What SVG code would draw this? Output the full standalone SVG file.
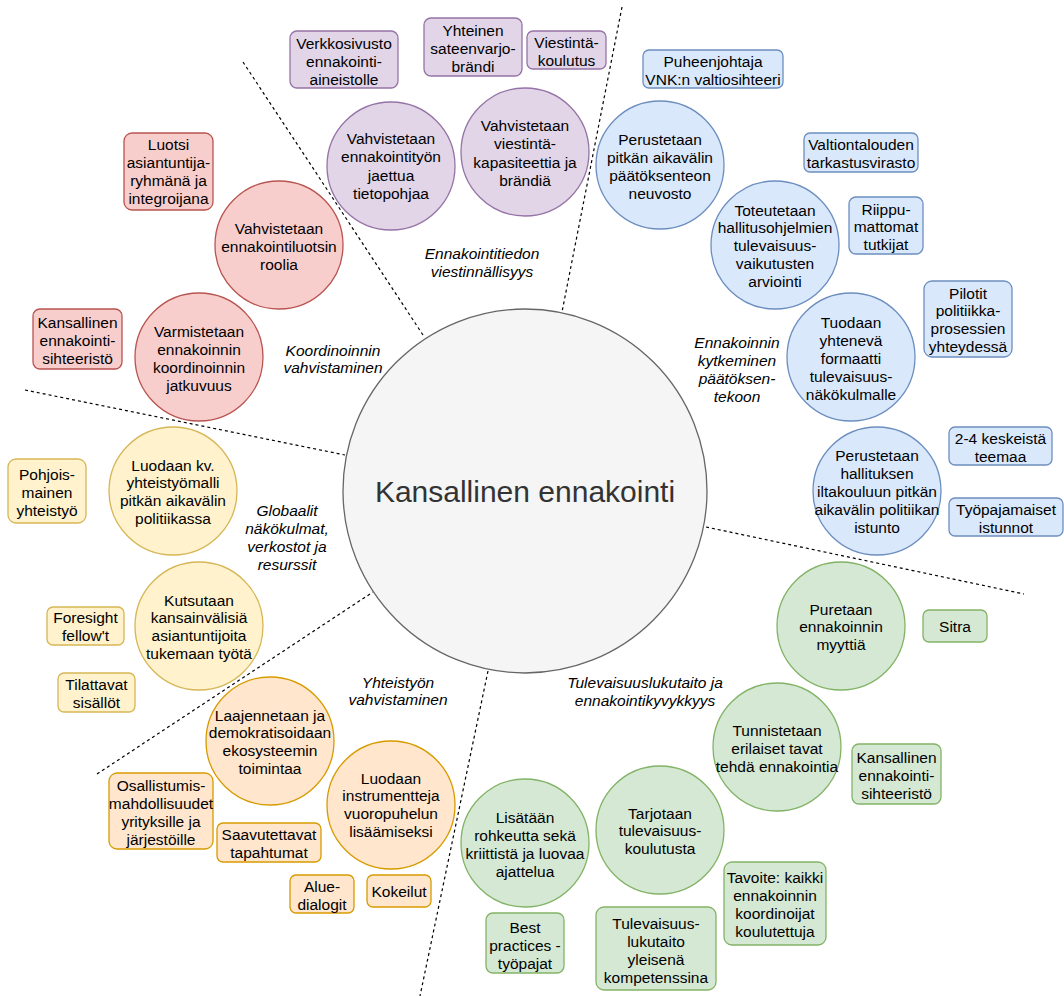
<svg xmlns="http://www.w3.org/2000/svg" width="1064" height="996" viewBox="0 0 1064 996">
<style>
text{font-family:"Liberation Sans",Arial,Helvetica,sans-serif;font-size:15.5px;fill:#000;text-anchor:middle}
.lbl{font-style:italic}
.center{font-size:30px;fill:#333}
.div{stroke:#000;stroke-width:1.2;stroke-dasharray:3 3;fill:none}
.pu{fill:#e1d5e7;stroke:#9673a6;stroke-width:1.3}
.bl{fill:#dae8fc;stroke:#6c8ebf;stroke-width:1.3}
.rd{fill:#f8cecc;stroke:#b85450;stroke-width:1.3}
.ye{fill:#fff2cc;stroke:#d6b656;stroke-width:1.3}
.or{fill:#ffe6cc;stroke:#d79b00;stroke-width:1.3}
.gr{fill:#d5e8d4;stroke:#82b366;stroke-width:1.3}
</style>
<rect width="1064" height="996" fill="#fff"/>
<g id="connectors">
<line class="div" x1="243" y1="62" x2="423" y2="335"/>
<line class="div" x1="622" y1="7" x2="562" y2="312"/>
<line class="div" x1="25" y1="390" x2="345" y2="455"/>
<line class="div" x1="706" y1="527" x2="1024" y2="594"/>
<line class="div" x1="97" y1="774" x2="373" y2="592"/>
<line class="div" x1="488" y1="671" x2="420" y2="996"/>
</g>
<g id="center">
<circle cx="525" cy="491" r="182" fill="#f5f5f5" stroke="#666" stroke-width="1.3"/>
<text class="center" x="525" y="502">Kansallinen ennakointi</text>
</g>
<!-- Purple -->
<g id="p1"><circle class="pu" cx="391" cy="166" r="64"/><text x="391" y="144"><tspan x="391">Vahvistetaan</tspan><tspan x="391" dy="18.3">ennakointityön</tspan><tspan x="391" dy="18.3">jaettua</tspan><tspan x="391" dy="18.3">tietopohjaa</tspan></text></g>
<g id="p2"><circle class="pu" cx="525" cy="152" r="64"/><text x="525" y="131"><tspan x="525">Vahvistetaan</tspan><tspan x="525" dy="18.3">viestintä-</tspan><tspan x="525" dy="18.3">kapasiteettia ja</tspan><tspan x="525" dy="18.3">brändiä</tspan></text></g>
<g id="p-box1"><rect class="pu" x="290" y="31" width="108" height="57" rx="7"/><text x="344" y="48.5"><tspan x="344">Verkkosivusto</tspan><tspan x="344" dy="18.3">ennakointi-</tspan><tspan x="344" dy="18.3">aineistolle</tspan></text></g>
<g id="p-box2"><rect class="pu" x="424" y="18" width="98" height="58" rx="7"/><text x="473" y="35.5"><tspan x="473">Yhteinen</tspan><tspan x="473" dy="18.3">sateenvarjo-</tspan><tspan x="473" dy="18.3">brändi</tspan></text></g>
<g id="p-box3"><rect class="pu" x="527" y="31" width="79" height="38" rx="6"/><text x="566.5" y="47.5"><tspan x="566.5">Viestintä-</tspan><tspan x="566.5" dy="18.3">koulutus</tspan></text></g>
<g id="p-label"><text class="lbl" x="482" y="258.5"><tspan x="482">Ennakointitiedon</tspan><tspan x="482" dy="18.3">viestinnällisyys</tspan></text></g>
<!-- Blue -->
<g id="b1"><circle class="bl" cx="660" cy="165" r="64"/><text x="660" y="144.5"><tspan x="660">Perustetaan</tspan><tspan x="660" dy="18.3">pitkän aikavälin</tspan><tspan x="660" dy="18.3">päätöksenteon</tspan><tspan x="660" dy="18.3">neuvosto</tspan></text></g>
<g id="b2"><circle class="bl" cx="775" cy="245" r="64"/><text x="775" y="215.5"><tspan x="775">Toteutetaan</tspan><tspan x="775" dy="17.8">hallitusohjelmien</tspan><tspan x="775" dy="17.8">tulevaisuus-</tspan><tspan x="775" dy="17.8">vaikutusten</tspan><tspan x="775" dy="17.8">arviointi</tspan></text></g>
<g id="b3"><circle class="bl" cx="851" cy="357" r="64"/><text x="851" y="327.5"><tspan x="851">Tuodaan</tspan><tspan x="851" dy="18">yhtenevä</tspan><tspan x="851" dy="18">formaatti</tspan><tspan x="851" dy="18">tulevaisuus-</tspan><tspan x="851" dy="18">näkökulmalle</tspan></text></g>
<g id="b4"><circle class="bl" cx="877" cy="491" r="64"/><text x="877" y="460.5"><tspan x="877">Perustetaan</tspan><tspan x="877" dy="18">hallituksen</tspan><tspan x="877" dy="18">iltakouluun pitkän</tspan><tspan x="877" dy="18">aikavälin politiikan</tspan><tspan x="877" dy="18">istunto</tspan></text></g>
<g id="b-box1"><rect class="bl" x="643" y="50" width="140" height="38" rx="6"/><text x="713" y="66.5"><tspan x="713">Puheenjohtaja</tspan><tspan x="713" dy="18">VNK:n valtiosihteeri</tspan></text></g>
<g id="b-box2"><rect class="bl" x="804" y="133" width="114" height="39" rx="6"/><text x="861" y="149.5"><tspan x="861">Valtiontalouden</tspan><tspan x="861" dy="18">tarkastusvirasto</tspan></text></g>
<g id="b-box3"><rect class="bl" x="849" y="197" width="74" height="57" rx="7"/><text x="886" y="214.5"><tspan x="886">Riippu-</tspan><tspan x="886" dy="17.8">mattomat</tspan><tspan x="886" dy="17.8">tutkijat</tspan></text></g>
<g id="b-box4"><rect class="bl" x="924" y="281" width="88" height="76" rx="8"/><text x="968" y="298.5"><tspan x="968">Pilotit</tspan><tspan x="968" dy="17.7">politiikka-</tspan><tspan x="968" dy="17.7">prosessien</tspan><tspan x="968" dy="17.7">yhteydessä</tspan></text></g>
<g id="b-box5"><rect class="bl" x="949" y="427" width="103" height="38" rx="6"/><text x="1000.5" y="443.5"><tspan x="1000.5">2-4 keskeistä</tspan><tspan x="1000.5" dy="18">teemaa</tspan></text></g>
<g id="b-box6"><rect class="bl" x="949" y="498" width="114" height="38" rx="6"/><text x="1006" y="514.5"><tspan x="1006">Työpajamaiset</tspan><tspan x="1006" dy="18">istunnot</tspan></text></g>
<g id="b-label"><text class="lbl" x="737" y="347.5"><tspan x="737">Ennakoinnin</tspan><tspan x="737" dy="18.2">kytkeminen</tspan><tspan x="737" dy="18.2">päätöksen-</tspan><tspan x="737" dy="18.2">tekoon</tspan></text></g>
<!-- Red -->
<g id="r1"><circle class="rd" cx="279" cy="245" r="64"/><text x="279" y="233.5"><tspan x="279">Vahvistetaan</tspan><tspan x="279" dy="18">ennakointiluotsin</tspan><tspan x="279" dy="18">roolia</tspan></text></g>
<g id="r2"><circle class="rd" cx="199" cy="357" r="64"/><text x="199" y="336.5"><tspan x="199">Varmistetaan</tspan><tspan x="199" dy="18">ennakoinnin</tspan><tspan x="199" dy="18">koordinoinnin</tspan><tspan x="199" dy="18">jatkuvuus</tspan></text></g>
<g id="r-box1"><rect class="rd" x="124" y="133" width="89" height="77" rx="8"/><text x="168.5" y="149.5"><tspan x="168.5">Luotsi</tspan><tspan x="168.5" dy="18.3">asiantuntija-</tspan><tspan x="168.5" dy="18.3">ryhmänä ja</tspan><tspan x="168.5" dy="18.3">integroijana</tspan></text></g>
<g id="r-box2"><rect class="rd" x="33" y="309" width="89" height="60" rx="7"/><text x="77.5" y="327.5"><tspan x="77.5">Kansallinen</tspan><tspan x="77.5" dy="18">ennakointi-</tspan><tspan x="77.5" dy="18">sihteeristö</tspan></text></g>
<g id="r-label"><text class="lbl" x="333" y="355.5"><tspan x="333">Koordinoinnin</tspan><tspan x="333" dy="17.8">vahvistaminen</tspan></text></g>
<!-- Yellow -->
<g id="y1"><circle class="ye" cx="173" cy="491" r="64"/><text x="173" y="470.5"><tspan x="173">Luodaan kv.</tspan><tspan x="173" dy="17.8">yhteistyömalli</tspan><tspan x="173" dy="17.8">pitkän aikavälin</tspan><tspan x="173" dy="17.8">politiikassa</tspan></text></g>
<g id="y2"><circle class="ye" cx="199" cy="626" r="64"/><text x="199" y="605.5"><tspan x="199">Kutsutaan</tspan><tspan x="199" dy="17.8">kansainvälisiä</tspan><tspan x="199" dy="17.8">asiantuntijoita</tspan><tspan x="199" dy="17.8">tukemaan työtä</tspan></text></g>
<g id="y-box1"><rect class="ye" x="8" y="459" width="78" height="64" rx="8"/><text x="47" y="479.5"><tspan x="47">Pohjois-</tspan><tspan x="47" dy="18">mainen</tspan><tspan x="47" dy="18">yhteistyö</tspan></text></g>
<g id="y-box2"><rect class="ye" x="47" y="607" width="77" height="38" rx="6"/><text x="85.5" y="622.5"><tspan x="85.5">Foresight</tspan><tspan x="85.5" dy="18">fellow't</tspan></text></g>
<g id="y-box3"><rect class="ye" x="58" y="673" width="77" height="39" rx="6"/><text x="96.5" y="689.5"><tspan x="96.5">Tilattavat</tspan><tspan x="96.5" dy="18">sisällöt</tspan></text></g>
<g id="y-label"><text class="lbl" x="287" y="515.5"><tspan x="287">Globaalit</tspan><tspan x="287" dy="18">näkökulmat,</tspan><tspan x="287" dy="18">verkostot ja</tspan><tspan x="287" dy="18">resurssit</tspan></text></g>
<!-- Orange -->
<g id="o1"><circle class="or" cx="270" cy="741" r="64"/><text x="270" y="720.5"><tspan x="270">Laajennetaan ja</tspan><tspan x="270" dy="17.7">demokratisoidaan</tspan><tspan x="270" dy="17.7">ekosysteemin</tspan><tspan x="270" dy="17.7">toimintaa</tspan></text></g>
<g id="o2"><circle class="or" cx="391" cy="805" r="64"/><text x="391" y="783.5"><tspan x="391">Luodaan</tspan><tspan x="391" dy="17.8">instrumentteja</tspan><tspan x="391" dy="17.8">vuoropuhelun</tspan><tspan x="391" dy="17.8">lisäämiseksi</tspan></text></g>
<g id="o-box1"><rect class="or" x="109" y="773" width="104" height="76" rx="8"/><text x="161" y="790.5"><tspan x="161">Osallistumis-</tspan><tspan x="161" dy="18">mahdollisuudet</tspan><tspan x="161" dy="18">yrityksille ja</tspan><tspan x="161" dy="18">järjestöille</tspan></text></g>
<g id="o-box2"><rect class="or" x="217" y="823" width="104" height="39" rx="6"/><text x="269" y="839.5"><tspan x="269">Saavutettavat</tspan><tspan x="269" dy="18">tapahtumat</tspan></text></g>
<g id="o-box3"><rect class="or" x="290" y="875" width="64" height="38" rx="6"/><text x="322" y="892"><tspan x="322">Alue-</tspan><tspan x="322" dy="17.5">dialogit</tspan></text></g>
<g id="o-box4"><rect class="or" x="367" y="875" width="64" height="32" rx="6"/><text x="399" y="897">Kokeilut</text></g>
<g id="o-label"><text class="lbl" x="398" y="687.5"><tspan x="398">Yhteistyön</tspan><tspan x="398" dy="17.6">vahvistaminen</tspan></text></g>
<!-- Green -->
<g id="g1"><circle class="gr" cx="841" cy="626" r="64"/><text x="841" y="614.5"><tspan x="841">Puretaan</tspan><tspan x="841" dy="17.6">ennakoinnin</tspan><tspan x="841" dy="17.6">myyttiä</tspan></text></g>
<g id="g2"><circle class="gr" cx="777" cy="747" r="64"/><text x="777" y="735.5"><tspan x="777">Tunnistetaan</tspan><tspan x="777" dy="18">erilaiset tavat</tspan><tspan x="777" dy="18">tehdä ennakointia</tspan></text></g>
<g id="g3"><circle class="gr" cx="525" cy="843" r="64"/><text x="525" y="822.5"><tspan x="525">Lisätään</tspan><tspan x="525" dy="18">rohkeutta sekä</tspan><tspan x="525" dy="18">kriittistä ja luovaa</tspan><tspan x="525" dy="18">ajattelua</tspan></text></g>
<g id="g4"><circle class="gr" cx="660" cy="830" r="64"/><text x="660" y="818.5"><tspan x="660">Tarjotaan</tspan><tspan x="660" dy="17.7">tulevaisuus-</tspan><tspan x="660" dy="17.7">koulutusta</tspan></text></g>
<g id="g-box1"><rect class="gr" x="923" y="610" width="64" height="32" rx="6"/><text x="955" y="631.5">Sitra</text></g>
<g id="g-box2"><rect class="gr" x="852" y="744" width="89" height="60" rx="7"/><text x="896.5" y="762.5"><tspan x="896.5">Kansallinen</tspan><tspan x="896.5" dy="18">ennakointi-</tspan><tspan x="896.5" dy="18">sihteeristö</tspan></text></g>
<g id="g-box3"><rect class="gr" x="486" y="913" width="78" height="60" rx="7"/><text x="525" y="932.5"><tspan x="525">Best</tspan><tspan x="525" dy="18">practices -</tspan><tspan x="525" dy="18">työpajat</tspan></text></g>
<g id="g-box4"><rect class="gr" x="596" y="907" width="120" height="83" rx="8"/><text x="656" y="928.5"><tspan x="656">Tulevaisuus-</tspan><tspan x="656" dy="18">lukutaito</tspan><tspan x="656" dy="18">yleisenä</tspan><tspan x="656" dy="18">kompetenssina</tspan></text></g>
<g id="g-box5"><rect class="gr" x="724" y="862" width="102" height="83" rx="8"/><text x="775" y="882.5"><tspan x="775">Tavoite: kaikki</tspan><tspan x="775" dy="18.2">ennakoinnin</tspan><tspan x="775" dy="18.2">koordinoijat</tspan><tspan x="775" dy="18.2">koulutettuja</tspan></text></g>
<g id="g-label"><text class="lbl" x="645" y="687.5"><tspan x="645">Tulevaisuuslukutaito ja</tspan><tspan x="645" dy="18">ennakointikyvykkyys</tspan></text></g>
</svg>
